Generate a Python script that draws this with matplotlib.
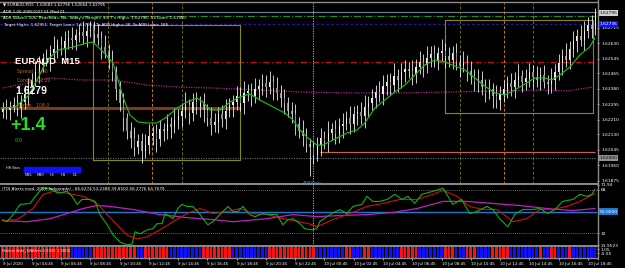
import numpy as np
import matplotlib
matplotlib.use('Agg')
import matplotlib.pyplot as plt
import matplotlib.transforms as mtransforms

# ---- price data (offset from 1.62000 in 1e-5 units) ----
base = 1.62000
first_open = 255
closes = [270, 262, 281, 290, 276,
          310, 352, 398, 430,
          470, 512, 545, 538,
          575, 600, 620, 605, 640, 660, 648, 675, 690, 672, 700, 705, 680,
          660, 610, 585, 540, 470,
          380, 300, 220, 150,
          110, 60, 95, 40, 75, 120,
          140, 105, 160, 150, 185, 170, 210, 230,
          260, 290, 250, 310, 280, 300, 265,
          220, 180, 200, 240, 215, 260, 290,
          310, 340, 300, 355, 370, 340, 380, 395,
          410, 390, 420, 385, 360, 330,
          300, 260, 240, 190, 150, 120, 80, 60,
          20, 70, 110, 95, 140, 160, 130, 175,
          190, 220, 185, 240, 255, 230, 280, 300,
          330, 365, 350, 395, 420, 400, 450, 430, 470, 490,
          480, 460, 500, 530, 510, 550, 570, 540, 575, 590,
          560, 540, 575, 530, 505, 520, 480,
          450, 420, 430, 390, 360, 380, 340, 320, 350,
          380, 410, 390, 430, 450, 420,
          440, 470, 445, 430, 455, 420, 405, 430,
          470, 520, 560, 540, 600,
          640, 670, 650, 700, 730, 710, 795]
wick_up = [40, 55, 30, 45, 60, 35, 50, 42, 38, 65,
           48, 30, 55, 44, 70, 36, 52, 60, 41, 58,
           33, 47, 62, 39, 50, 45, 50, 35, 66, 40,
           52, 38, 44, 57, 30, 48, 61, 35, 42, 55,
           68, 37, 46, 50, 33, 59, 41, 64, 38, 45,
           72, 36, 49, 53, 40, 58, 34, 62, 47, 39,
           51, 66, 42, 37, 55, 48, 70, 35, 44, 60,
           39, 52, 45, 58, 36, 63, 41, 50, 34, 47,
           55, 38, 62, 44, 30, 35, 48, 57, 40, 66,
           35, 51, 43, 59, 37, 64, 46, 39, 53, 68,
           41, 48, 36, 57, 62, 40, 45, 71, 38, 54,
           49, 35, 60, 43, 58, 39, 66, 47, 52, 36,
           63, 44, 50, 41, 57, 38, 69, 45, 53, 37,
           61, 48, 42, 55, 34, 64, 46, 51, 39, 58,
           43, 67, 36, 49, 54, 40, 62, 45, 57, 38,
           65, 48, 52, 41, 70, 44, 59, 37, 63, 50,
           46, 55, 30]
wick_dn = [35, 48, 52, 30, 44, 58, 39, 61, 47, 36,
           55, 42, 33, 60, 45, 51, 38, 66, 40, 49,
           57, 36, 44, 62, 38, 50, 41, 68, 35, 53,
           46, 59, 39, 72, 43, 55, 48, 37, 64, 41,
           52, 45, 70, 38, 56, 42, 61, 34, 49, 58,
           40, 63, 47, 36, 54, 69, 43, 51, 38, 60,
           45, 57, 33, 66, 48, 40, 59, 44, 52, 37,
           62, 46, 55, 39, 68, 42, 50, 58, 36, 47,
           64, 41, 53, 45, 160, 50, 38, 56, 43, 61,
           39, 54, 47, 66, 35, 52, 44, 59, 40, 63,
           48, 37, 55, 42, 60, 46, 51, 38, 65, 44,
           53, 40, 57, 49, 36, 62, 45, 50, 41, 58,
           44, 66, 39, 53, 47, 60, 35, 56, 42, 51,
           59, 43, 50, 37, 64, 46, 55, 40, 52, 48,
           61, 38, 57, 44, 49, 66, 41, 54, 36, 53,
           47, 58, 42, 63, 39, 51, 45, 60, 37, 55,
           43, 50, 35]

# moving averages (bar index, value offset)
ma_fast_bar = [0, 3.4, 7.0, 9.7, 12.2, 15.2, 19.3, 23.1, 24.7, 26.1, 28.3, 30.2, 31.6, 32.9, 34.8,
               37.0, 39.5, 42.2, 44.9, 47.7, 50.4, 53.1, 54.8, 56.7, 59.4, 62.2, 64.9, 67.6, 70.4,
               74.5, 77.2, 79.4, 81.3, 83.2, 85.9, 87.6, 91.4, 94.1, 96.9, 99.0, 101.8, 104.5,
               107.2, 110.0, 112.7, 115.4, 118.2, 120.9, 123.6, 126.4, 129.1, 131.8, 134.6, 137.3,
               140.0, 142.8, 145.5, 148.2, 150.1, 152.3, 155.1, 157.8, 160.5, 161.9]
ma_fast_val = [275, 281, 341, 440, 539, 593, 610, 632, 637, 610, 566, 522, 429, 336, 237,
               199, 193, 193, 226, 275, 308, 330, 308, 264, 264, 308, 336, 352, 319,
               275, 248, 210, 155, 116, 72, 72, 111, 138, 155, 193, 275, 319,
               363, 401, 456, 511, 539, 528, 506, 484, 440, 396, 358, 347,
               374, 407, 440, 440, 429, 456, 500, 566, 610, 659]
ma_slow_bar = [0, 8.3, 13.0, 21.2, 30.2, 39.5, 48.5, 57.5, 70.4, 81.3, 94.9, 108.6, 122.3, 135.9, 146.9, 154.3, 161.3]
ma_slow_val = [385, 418, 440, 429, 429, 401, 390, 385, 374, 363, 358, 358, 363, 369, 374, 369, 390]

# TDI lines
tdi_green_bar = [0, 1.2, 2.9, 4.8, 7.5, 9.4, 10.8, 13.0, 15.2, 17.6, 19.0, 20.4, 21.7, 23.9, 25.3, 26.6,
                 28.6, 30.2, 32.1, 34.0, 35.4, 36.2, 37.6, 39.5, 41.1, 42.2, 43.6, 44.4, 45.8, 46.6,
                 47.9, 49.0, 50.4, 52.0, 53.4, 54.8, 56.1, 57.5, 59.4, 61.6, 63.0, 64.3, 65.7, 67.6,
                 69.0, 70.4, 71.2, 73.1, 75.0, 76.6, 78.0, 79.4, 81.3, 82.6, 84.5, 85.9, 86.7, 89.5,
                 92.2, 94.1, 95.8, 98.2, 99.6, 101.2, 103.1, 105.1, 107.2, 109.2, 110.8, 112.7, 114.6,
                 117.6, 120.4, 123.1, 125.5, 127.7, 129.6, 132.4, 134.0, 135.9, 138.1, 140.0, 142.2,
                 144.9, 146.9, 149.0, 151.0, 153.1, 155.9, 157.8, 159.7, 161.1, 161.9]
tdi_green_val = [43.3, 41.6, 47.5, 55.9, 56.7, 64.2, 69.3, 69.3, 65.1, 66.7, 62.6, 55.9, 60.0, 60.0, 58.4, 47.5,
                 39.1, 30.7, 24.9, 22.4, 23.2, 33.3, 31.6, 34.9, 35.8, 40.0, 40.0, 48.3, 45.8, 44.1,
                 52.5, 55.9, 54.2, 54.2, 50.0, 44.1, 39.1, 41.6, 47.5, 54.2, 50.0, 50.0, 54.2, 47.5,
                 45.8, 47.5, 48.3, 47.5, 47.5, 39.1, 43.3, 44.1, 40.0, 35.8, 34.9, 35.8, 41.6, 47.5,
                 51.7, 48.3, 54.2, 55.9, 62.6, 58.4, 58.4, 60.0, 64.2, 60.0, 62.6, 56.7, 64.2,
                 66.7, 69.3, 55.9, 60.0, 48.3, 50.0, 54.2, 51.7, 44.1, 37.4, 47.5, 51.7,
                 51.7, 52.5, 48.3, 51.7, 58.4, 60.0, 64.2, 62.6, 64.2, 68.3]
tdi_red_bar = [0, 4.0, 8.3, 11.1, 13.8, 17.6, 22.0, 25.8, 28.6, 31.3, 34.0, 36.7, 39.5, 43.0, 46.6, 50.4,
               54.0, 57.5, 61.3, 64.9, 68.4, 72.3, 76.6, 81.3, 84.8, 85.9, 90.3, 94.9, 99.6, 104.0,
               108.6, 113.3, 117.6, 120.4, 124.2, 127.7, 131.3, 135.1, 137.8, 139.5, 143.3, 146.9,
               150.4, 154.2, 157.8, 161.9]
tdi_red_val = [42.5, 43.3, 52.5, 64.2, 66.7, 65.1, 62.6, 56.7, 47.5, 39.1, 30.7, 27.4, 29.1, 34.9, 41.6, 48.3,
               52.5, 48.3, 50.0, 52.5, 48.3, 47.5, 44.1, 41.6, 39.1, 37.4, 43.3, 48.3, 54.2, 56.7,
               60.0, 60.0, 64.2, 67.6, 62.6, 54.2, 51.7, 51.7, 45.8, 41.6, 44.1, 51.7,
               51.7, 54.2, 58.4, 64.8]
tdi_base_bar = [0, 6.7, 13.0, 17.6, 22.0, 25.8, 29.4, 35.7, 43.0, 50.4, 57.5, 63.0, 72.3, 79.4, 85.9,
                92.2, 99.6, 106.7, 113.3, 120.4, 126.9, 134.0, 141.4, 148.8, 155.9, 161.9]
tdi_base_val = [42.5, 41.6, 44.1, 48.3, 52.5, 55.0, 54.2, 51.7, 47.5, 45.0, 43.3, 41.6, 44.1, 47.5, 45.8,
                46.7, 47.5, 49.2, 52.5, 58.4, 58.4, 56.7, 55.0, 52.5, 50.8, 52.5]

# Heiken Ashi colours, one char per bar (r = red, b = blue)
ha_colors = ('rrrrrrrrrrrrrrrrrrrbbbbbbrrrrrrrrrrrrbbrrrrrrrbbbbbbbbbrrrrrrrrbbbbbbbbbbrrrrrrr'
             'rrrrrrbbbbbbbbrrbbbrrbbbbbbbbrrrrrbbbbbbbrrrbbbrrrbbbbrrrrrbbbbbbbbrbbrrbbbrbbbbbbb')

# axis labels
price_ticks = [1.61875, 1.61960, 1.62045, 1.62130, 1.62210, 1.62295, 1.62380, 1.62465, 1.62545, 1.62630, 1.62715]
time_ticks = list(range(0, 161, 8))
time_labels = ['9 Jul 2020', '9 Jul 04:45', '9 Jul 06:45', '9 Jul 08:45', '9 Jul 10:45', '9 Jul 12:45',
               '9 Jul 14:45', '9 Jul 16:45', '9 Jul 18:45', '9 Jul 20:45', '9 Jul 22:45',
               '10 Jul 00:45', '10 Jul 02:45', '10 Jul 04:45', '10 Jul 06:45', '10 Jul 08:45',
               '10 Jul 10:45', '10 Jul 12:45', '10 Jul 14:45', '10 Jul 16:45', '10 Jul 18:45']
bid_price = 1.62795
blue_price = 1.62736
round_price = 1.62000

W, H = 625, 268
fig = plt.figure(figsize=(W / 100, H / 100), dpi=100, facecolor='black')
plot_w = 597 / W


def px_axes(top, bottom):
    return fig.add_axes([0, 1 - bottom / H, plot_w, (bottom - top) / H], facecolor='black')


def style(a):
    for s in a.spines.values():
        s.set_visible(False)
    a.tick_params(colors='white', labelsize=3.2, length=1.5, width=0.5, pad=1)


xlim = (-0.7, 162.5)
ax = px_axes(3, 184)
ax2 = px_axes(185, 245.5)
ax3 = px_axes(247, 257.5)
for a in (ax, ax2, ax3):
    style(a)
    a.set_xlim(*xlim)
    a.set_xticks([])
ax.set_ylim(1.618585, 1.628511)
ax2.set_ylim(21.95, 71.94)
ax3.set_ylim(0, 1)

# ---- main chart ----
c = np.array(closes, dtype=float)
o = np.concatenate([[first_open], c[:-1]])
hi = np.maximum(o, c) + np.array(wick_up)
lo = np.minimum(o, c) - np.array(wick_dn)
idx = np.arange(len(c))
to_p = lambda v: base + np.asarray(v, dtype=float) / 1e5

ax.vlines(idx, to_p(lo), to_p(hi), color='white', lw=0.55, zorder=3)
up = c >= o
ax.bar(idx[up], to_p(c[up]) - to_p(o[up]), bottom=to_p(o[up]), width=0.32, color='#f0f0f0', zorder=4)
ax.bar(idx[~up], to_p(o[~up]) - to_p(c[~up]), bottom=to_p(c[~up]), width=0.32, color='#8c8c8c', zorder=4)

ax.plot(ma_fast_bar, to_p(ma_fast_val), color='#1fbf1f', lw=0.8, zorder=5)
ax.plot(ma_slow_bar, to_p(ma_slow_val), color='#b0208a', lw=0.9, ls=(0, (1, 1)), zorder=2)

# horizontal levels
ax.axhline(1.62800, color='#708090', lw=0.8, zorder=1)
ax.axhline(1.62780, color='#1e8f1e', lw=0.8, ls='-.', zorder=1)
ax.axhline(blue_price, color='#1a1aa0', lw=1.0, ls=(0, (2, 1.5)), zorder=1)
ax.axhline(1.62528, color='#c01010', lw=0.9, ls=(0, (5, 2, 1, 2)), zorder=1)
ax.axhline(round_price, color='#707070', lw=0.8, ls=(0, (1, 1.2)), zorder=1)
ax.hlines(1.62275, -0.7, 64.9, color='#7a3a1e', lw=2.2, zorder=2)
ax.hlines(1.62034, 86.8, 161.9, color='#c8643c', lw=0.9, zorder=2)

# session boxes
for x0, x1, p0, p1 in [(24.7, 64.9, 1.61990, 1.62730), (120.9, 161.3, 1.62248, 1.62758)]:
    ax.plot([x0, x1, x1, x0, x0], [p0, p0, p1, p1, p0], color='#8a8a12', lw=0.8, zorder=2)

# vertical session lines
for xv, col in [(28.8, '#6e6e0a'), (40.8, '#c07a10'), (49.0, '#6e6e0a'),
                (125.0, '#6e6e0a'), (137.0, '#c07a10'), (145.0, '#6e6e0a')]:
    ax.axvline(xv, color=col, lw=0.7, ls=(0, (3, 2)), zorder=1)
for a in (ax, ax2):
    a.axvline(84.8, color='#c8c8c8', lw=0.6, ls=(0, (1.5, 1.5)), zorder=1)
ax.text(84.8, 1.61866, 'ADRStart', color='#4f7fb0', fontsize=3.0, ha='center', va='center')

# price scale
ax.yaxis.tick_right()
ax.set_yticks(price_ticks)
ax.set_yticklabels(['%.5f' % p for p in price_ticks])
ax.tick_params(axis='y', pad=2)
for p, txt, fc, tc in [(bid_price, '1.62795', '#d0d0d0', 'black'), (blue_price, '1.62736', '#1010ff', 'white'),
                       (round_price, '1.62000', '#909090', 'black')]:
    ax.text(1.004, p, txt, transform=mtransforms.blended_transform_factory(ax.transAxes, ax.transData),
            fontsize=3.2, color=tc, va='center', ha='left', clip_on=False,
            bbox=dict(boxstyle='square,pad=0.25', fc=fc, ec='none'))

# ---- TDI ----
ax2.axhline(50, color='#1e78d2', lw=1.0)
for lv in (68, 32):
    ax2.axhline(lv, color='#8a8a8a', lw=0.6, ls=(0, (1, 1.5)))
ax2.plot(tdi_base_bar, tdi_base_val, color='#c020c0', lw=0.9)
ax2.plot(tdi_red_bar, tdi_red_val, color='#d01010', lw=0.8)
ax2.plot(tdi_green_bar, tdi_green_val, color='#10b010', lw=0.8)
ax2.yaxis.tick_right()
ax2.set_yticks([68, 32, 71.94, 21.95])
ax2.set_yticklabels(['68', '32', '71.94', '21.9523'])
ax2.text(1.004, 50, '50.0000', transform=mtransforms.blended_transform_factory(ax2.transAxes, ax2.transData),
         fontsize=3.2, color='white', va='center', ha='left', clip_on=False,
         bbox=dict(boxstyle='square,pad=0.25', fc='#1e78d2', ec='none'))
ax2.text(0.004, 0.965, '(TDI Alerts mod. 2009-ladyprade) : 66.6274 53.2388 39.8502 68.2776 64.7678',
         transform=ax2.transAxes, color='white', fontsize=3.0, va='top', ha='left')

# ---- Heiken Ashi ----
ha_col = ['#ff1010' if ch == 'r' else '#1010ff' for ch in ha_colors[:len(c)]]
ax3.bar(idx[:len(ha_col)], 1, width=0.72, bottom=0, color=ha_col)
ax3.text(0.004, 0.88, 'Heiken Ashi_SWAlert 0.0000 1.0000', transform=ax3.transAxes, color='white',
         fontsize=2.7, va='top', ha='left')
ax3.yaxis.tick_right()
ax3.set_yticks([0.8, 0.4])
ax3.set_yticklabels(['1.05', '-0.05'])
ax3.set_xticks(time_ticks)
ax3.set_xticklabels(time_labels, ha='left', fontsize=2.9)
ax3.tick_params(axis='x', length=1.5, pad=1.5)

# ---- frame lines and header texts ----
def hline_px(y, x0=0, x1=597, col='#8c8c8c', lw=1.0):
    fig.add_artist(plt.Line2D([x0 / W, x1 / W], [1 - y / H, 1 - y / H], color=col, lw=lw))

hline_px(1.5)
hline_px(184.3, lw=1.4)
hline_px(246.2, lw=1.4)
hline_px(258.2, lw=1.0)
fig.add_artist(plt.Line2D([597.5 / W, 597.5 / W], [1 - 258.5 / H, 1], color='#8c8c8c', lw=1.0))

hdr = ['\u25bc EURAUD,M15  1.62683 1.62796 1.62664 1.62795',
       'ADR 1.00 20051027 01 Mod 01',
       "ADR Value= 105; Reached= No; Today's Range= 90; T's High= 1.62796; T's Low= 1.61900",
       'Target High= 1.62951; Target Low= 1.61705 | To ADR High= 20; To ADR Low= 185']
for k, t in enumerate(hdr):
    fig.text(3 / W, 1 - (5 + 6.6 * k) / H, t, color='white', fontsize=2.9, va='center', ha='left')

fig.text(15 / W, 1 - 62 / H, 'EURAUD  M15', color='white', fontsize=6.8, fontweight='bold',
         family='Liberation Sans', va='center')
fig.text(17 / W, 1 - 71.5 / H, 'Spread   1.00', color='#b8641c', fontsize=3.3, va='center')
fig.text(17 / W, 1 - 81 / H, 'Candle   02:20', color='#b8641c', fontsize=3.3, va='center')
fig.text(15 / W, 1 - 90.5 / H, '1.6279', color='white', fontsize=7.5, fontweight='bold',
         family='Liberation Sans', va='center')
fig.text(17 / W, 1 - 105.5 / H, 'Range   108.0', color='#b8641c', fontsize=3.3, va='center')
fig.text(10 / W, 1 - 126 / H, '+1.4', color='#22dd22', fontsize=13, fontweight='bold',
         family='Liberation Sans', va='center')
fig.text(15 / W, 1 - 141 / H, '0.0', color='#22cc22', fontsize=3.6, va='center')

fig.text(6 / W, 1 - 168 / H, 'HH Bars', color='white', fontsize=2.4, va='center')
for k, t in enumerate(['M15', 'M30', 'H1', 'H4', 'D1']):
    fig.add_artist(plt.Rectangle(((23.5 + 11.5 * k) / W, 1 - 171.5 / H), 10.6 / W, 4.5 / H,
                                 color='#1010ff'))
    fig.text((29 + 11.5 * k) / W, 1 - 175.5 / H, t, color='white', fontsize=2.6, va='center', ha='center')

fig.savefig('out.png', dpi=100, facecolor='black')
